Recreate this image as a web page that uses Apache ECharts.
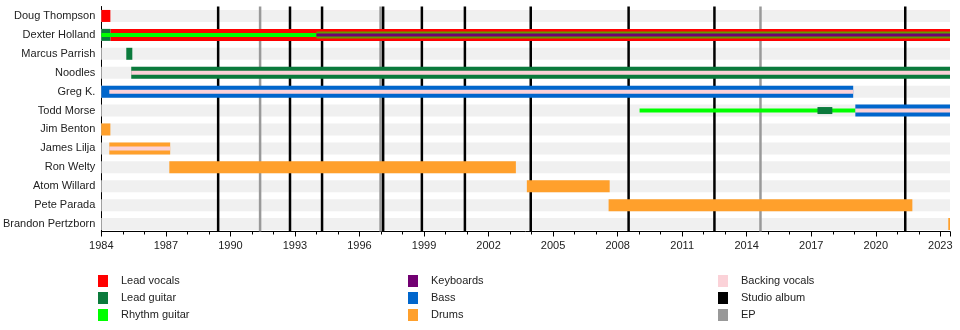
<!DOCTYPE html>
<html>
<head>
<meta charset="utf-8">
<title>The Offspring – members timeline</title>
<script src="https://cdn.jsdelivr.net/npm/echarts@6/dist/echarts.min.js"></script>
<style>
  html, body { margin: 0; padding: 0; background: #fff; }
  #chart { width: 960px; height: 330px; }
</style>
</head>
<body>
<div id="chart"></div>
<script>
// Band members, top to bottom
const members = [
  'Doug Thompson', 'Dexter Holland', 'Marcus Parrish', 'Noodles', 'Greg K.',
  'Todd Morse', 'Jim Benton', 'James Lilja', 'Ron Welty', 'Atom Willard',
  'Pete Parada', 'Brandon Pertzborn'
];

const START = 1984;
const END = 2023.45;
const yearStep = 3;

// Stints as [member, from, till] (decimal years)
const leadVocals = [
  ['Doug Thompson', 1984, 1984.42],
  ['Dexter Holland', 1984.42, END]
];
const leadGuitar = [
  ['Dexter Holland', 1984, 1984.42],
  ['Marcus Parrish', 1985.16, 1985.44],
  ['Noodles', 1985.39, END]
];
const leadGuitarTouring = [
  ['Todd Morse', 2017.29, 2017.98]
];
const rhythmGuitar = [
  ['Dexter Holland', 1984, 1994.0],
  ['Todd Morse', 2009.02, 2019.05]
];
const rhythmGuitarLater = [
  ['Dexter Holland', 1994.0, END]
];
const keyboards = [
  ['Dexter Holland', 1994.0, END]
];
const bass = [
  ['Greg K.', 1984, 2018.95],
  ['Todd Morse', 2019.05, END]
];
const drums = [
  ['Jim Benton', 1984, 1984.42],
  ['James Lilja', 1984.37, 1987.2],
  ['Ron Welty', 1987.16, 2003.27],
  ['Atom Willard', 2003.78, 2007.63],
  ['Pete Parada', 2007.58, 2021.7],
  ['Brandon Pertzborn', 2023.37, END]
];
const backingVocals = [
  ['Noodles', 1985.39, END],
  ['Greg K.', 1984.37, 2018.95],
  ['Todd Morse', 2019.05, END],
  ['James Lilja', 1984.37, 1987.2]
];

// Release dates
const studioAlbums = [1989.43, 1992.77, 1994.26, 1997.1, 1998.9, 2000.9, 2003.96, 2008.51, 2012.5, 2021.37];
const eps = [1991.38, 1996.98, 2014.64];

const colors = {
  leadVocals: '#ff0000',
  leadGuitar: '#0b7a3c',
  rhythmGuitar: '#00ff00',
  keyboards: '#720072',
  bass: '#0066cc',
  drums: '#ffa02c',
  backingVocals: '#fbd2d8',
  studio: '#000000',
  ep: '#999999',
  band: '#f0f0f0'
};

const FONT = "'Liberation Sans', Arial, Helvetica, sans-serif";

function toRows(list) {
  return list.map(d => [d[1], d[2], d[0]]);
}

function barRenderer(height, opacity) {
  return function (params, api) {
    const row = api.value(2);
    const a = api.coord([api.value(0), row]);
    const b = api.coord([api.value(1), row]);
    const cs = params.coordSys;
    const shape = echarts.graphic.clipRectByRect(
      { x: a[0], y: a[1] - height / 2, width: b[0] - a[0], height: height },
      { x: cs.x, y: cs.y, width: cs.width, height: cs.height }
    );
    if (!shape) return null;
    return {
      type: 'rect',
      shape: shape,
      style: { fill: api.visual('color'), opacity: opacity == null ? 1 : opacity }
    };
  };
}

function lineRenderer(width) {
  return function (params, api) {
    const cs = params.coordSys;
    const x = api.coord([api.value(0), 0])[0];
    return {
      type: 'line',
      shape: { x1: x, y1: cs.y, x2: x, y2: cs.y + cs.height - 2 },
      style: { stroke: api.visual('color'), lineWidth: width }
    };
  };
}

const dims = [
  { name: 'from', type: 'number' },
  { name: 'till', type: 'number' },
  { name: 'member', type: 'ordinal' }
];

function barSeries(name, list, color, height, z, opacity) {
  return {
    type: 'custom',
    name: name,
    renderItem: barRenderer(height, opacity),
    dimensions: dims,
    encode: { x: [0, 1], y: 2 },
    itemStyle: { color: color },
    data: toRows(list),
    z: z,
    silent: true
  };
}

const series = [
  // row backgrounds
  {
    type: 'custom',
    name: 'rows',
    renderItem: barRenderer(12),
    dimensions: dims,
    encode: { x: [0, 1], y: 2 },
    itemStyle: { color: colors.band },
    data: members.map(m => [START, END, m]),
    z: 1,
    silent: true
  },
  {
    type: 'custom',
    name: 'Studio album',
    renderItem: lineRenderer(2.5),
    encode: { x: 0 },
    itemStyle: { color: colors.studio },
    data: studioAlbums.map(v => [v]),
    z: 3,
    silent: true
  },
  {
    type: 'custom',
    name: 'EP',
    renderItem: lineRenderer(2.5),
    encode: { x: 0 },
    itemStyle: { color: colors.ep },
    data: eps.map(v => [v]),
    z: 2,
    silent: true
  },
  barSeries('Lead vocals', leadVocals, colors.leadVocals, 12, 5),
  barSeries('Lead guitar', leadGuitar, colors.leadGuitar, 12, 5),
  barSeries('Bass', bass, colors.bass, 12, 5),
  barSeries('Drums', drums, colors.drums, 12, 5),
  barSeries('Rhythm guitar', rhythmGuitar, colors.rhythmGuitar, 4, 6),
  barSeries('Rhythm guitar', rhythmGuitarLater, colors.rhythmGuitar, 7, 6, 0.6),
  barSeries('Lead guitar', leadGuitarTouring, colors.leadGuitar, 7, 7),
  barSeries('Keyboards', keyboards, colors.keyboards, 3, 8),
  barSeries('Backing vocals', backingVocals, colors.backingVocals, 4, 7)
];

function legendColumn(names, left) {
  return {
    data: names,
    orient: 'vertical',
    left: left,
    top: 275,
    icon: 'rect',
    itemWidth: 10,
    itemHeight: 12,
    itemGap: 5,
    padding: 0,
    selectedMode: false,
    textStyle: { fontSize: 11, color: '#222', fontFamily: FONT, padding: [0, 0, 0, 8] }
  };
}

const chart = echarts.init(document.getElementById('chart'), null, { renderer: 'canvas' });
chart.setOption({
  animation: false,
  backgroundColor: '#fff',
  textStyle: { fontFamily: FONT },
  grid: { left: 100, right: 10, top: 6.5, bottom: 96.5, containLabel: false },
  legend: [
    legendColumn(['Lead vocals', 'Lead guitar', 'Rhythm guitar'], 98),
    legendColumn(['Keyboards', 'Bass', 'Drums'], 408),
    legendColumn(['Backing vocals', 'Studio album', 'EP'], 718)
  ],
  xAxis: {
    type: 'value',
    min: START,
    max: END,
    interval: yearStep,
    offset: -2,
    axisLine: { show: true, lineStyle: { color: '#000', width: 1 } },
    axisTick: { show: true, length: 5, lineStyle: { color: '#000' } },
    minorTick: { show: true, splitNumber: 3, length: 3, lineStyle: { color: '#000' } },
    splitLine: { show: false },
    minorSplitLine: { show: false },
    axisLabel: {
      formatter: v => String(v),
      showMaxLabel: false,
      margin: 9,
      fontSize: 11,
      color: '#222',
      fontFamily: FONT
    }
  },
  yAxis: {
    type: 'category',
    data: members,
    inverse: true,
    axisLine: { show: true, lineStyle: { color: '#000', width: 1 } },
    axisTick: { show: false },
    splitLine: { show: false },
    axisLabel: { margin: 6, fontSize: 11, color: '#222', fontFamily: FONT }
  },
  series: series
});
</script>
</body>
</html>
